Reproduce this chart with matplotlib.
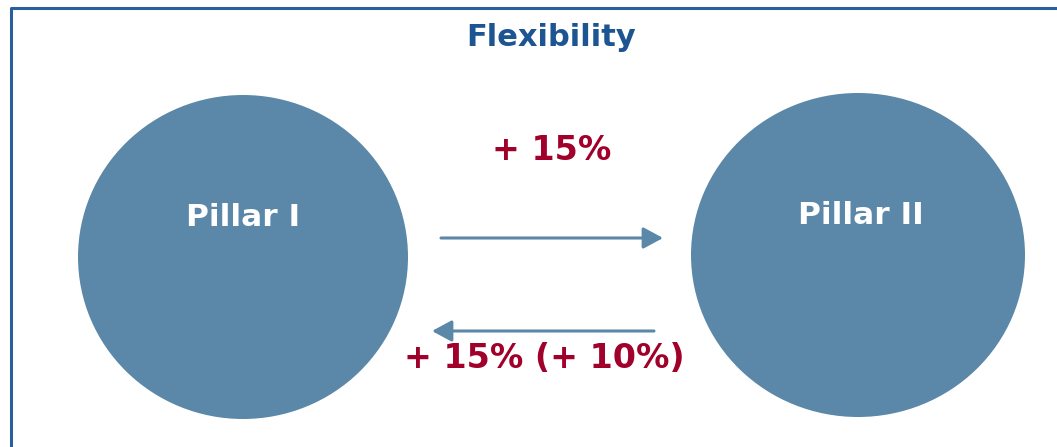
import matplotlib.pyplot as plt
from matplotlib.patches import Ellipse

# content
title = "Flexibility"
pillars = ["Pillar I", "Pillar II"]
flow_labels = ["+ 15%", "+ 15% (+ 10%)"]  # I -> II, II -> I

# colours
CIRCLE = "#5b88a8"
TITLE = "#1d5592"
RED = "#a0002a"
FRAME = "#2a5f9e"

# layout in pixel coords of the 1057x447 picture
centres = [(243, 257), (858, 255)]
radii = [(165, 162), (167, 162)]
text_pos = [(243, 217), (861, 215)]
arrow_y = [238, 331]
arrow_x = [(441, 663), (654, 432)]
label_pos = [(552, 150), (544, 359)]

fig = plt.figure(figsize=(10.57, 4.47), dpi=100)
ax = fig.add_axes([0, 0, 1, 1])
ax.set_xlim(0, 1057)
ax.set_ylim(447, 0)
ax.axis('off')

# frame (only left and top visible)
ax.plot([11, 11, 1057], [447, 7.5, 7.5], color=FRAME, lw=2.2, solid_capstyle='butt')

ax.text(551, 37, title, color=TITLE, fontsize=22, fontweight='bold',
        ha='center', va='center')

for (cx, cy), (rx, ry), name, (tx, ty) in zip(centres, radii, pillars, text_pos):
    ax.add_patch(Ellipse((cx, cy), 2 * rx, 2 * ry, color=CIRCLE, lw=0))
    ax.text(tx, ty, name, color='white', fontsize=22.5, fontweight='bold',
            ha='center', va='center')

for (x0, x1), y, lab, (lx, ly) in zip(arrow_x, arrow_y, flow_labels, label_pos):
    ax.annotate("", xy=(x1, y), xytext=(x0, y),
                arrowprops=dict(arrowstyle="-|>,head_length=1.2,head_width=0.65",
                                color=CIRCLE, lw=2.2, shrinkA=0, shrinkB=0))
    ax.text(lx, ly, lab, color=RED, fontsize=24, fontweight='bold',
            ha='center', va='center')

fig.savefig("out.png", dpi=100)
